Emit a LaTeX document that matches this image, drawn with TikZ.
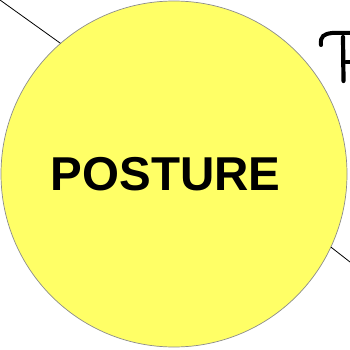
\documentclass[tikz,border=0pt]{standalone}
\usepackage{fontspec}
\newfontfamily\headfont{Liberation Sans}
\usepackage{tikz}
\definecolor{discyellow}{HTML}{FFFF66}
\definecolor{discedge}{HTML}{8C8C8C}

\begin{document}
\begin{tikzpicture}[x=1pt, y=-1pt, line cap=round,
	disc/.style={circle, fill=discyellow, draw=discedge, line width=0.7pt, minimum size=346pt, inner sep=0pt},
	title/.style={font=\headfont\bfseries\fontsize{47.5}{52}\selectfont, inner sep=0pt}]
	\useasboundingbox (0,0) rectangle (350,350);
	\clip (0,0) rectangle (350,350);
	\coordinate (nw) at (0,0);
	\coordinate (se) at (350,262);
	\node[disc] (posture) at (174,174) {};
	\draw[black, line width=0.8pt] (nw) -- (posture.131.5);
	\draw[black, line width=0.8pt] (posture.-25.2) -- (se);
	\node[title] (name) at (165.5,174) {POSTURE};
	\draw[black, line width=4pt] (321,45) .. controls (320,36) and (324,34) .. (332,33) -- (352,33);
	\draw[black, line width=4.2pt] (343,37) -- (343.5,81);
	\draw[black, line width=4pt] (346,62) -- (354,62);
\end{tikzpicture}
\end{document}
